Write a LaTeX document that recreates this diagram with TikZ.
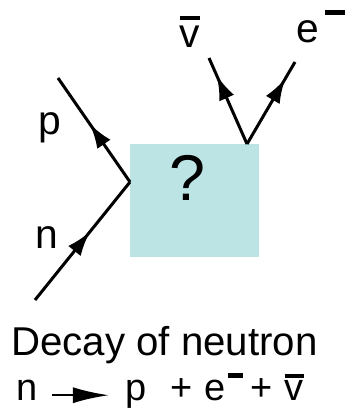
\documentclass[tikz,border=0pt]{standalone}
\usepackage{fontspec}
\setmainfont{Liberation Sans}
\usetikzlibrary{arrows.meta,decorations.markings}
\definecolor{blobcyan}{RGB}{189,228,228}
\newcommand{\nubar}[2]{\vbox{\hrule height #1\kern #2\hbox{v}}}
\tikzset{
  leg/.style={line width=0.075cm, postaction={decorate},
    decoration={markings, mark=at position #1 with {\arrow{Latex[length=0.62cm,width=0.4cm]}}}},
  lbl/.style={inner sep=0pt, anchor=base, font=\fontsize{29}{32}\selectfont},
  eqlbl/.style={inner sep=0pt, anchor=base west, font=\fontsize{27}{30}\selectfont},
}
\begin{document}
\begin{tikzpicture}[x=0.025cm, y=-0.025cm]
  \useasboundingbox (0,0) rectangle (349,412);
  % the unknown interaction
  \node[fill=blobcyan, minimum width=3.225cm, minimum height=2.825cm, inner sep=0pt] (blob) at (194.5,200.5) {};
  \node[lbl, font=\fontsize{46}{50}\selectfont] (q) at (187,200) {?};
  % vertices and free ends
  \coordinate (vleft) at (130,182);
  \coordinate (vtop) at (247,144);
  \coordinate (nin) at (35,300);
  \coordinate (pout) at (58,78);
  \coordinate (nuout) at (209,58);
  \coordinate (eout) at (295,62);
  \draw[leg=0.58] (nin) -- (vleft);
  \draw[leg=0.56] (vleft) -- (pout);
  \draw[leg=0.8] (vtop) -- (nuout);
  \draw[leg=0.8] (vtop) -- (eout);
  % particle labels
  \node[lbl] (p) at (50,135) {p};
  \node[lbl] (n) at (47,248) {n};
  \node[lbl] (nu) at (190,48) {\nubar{0.08cm}{0.17cm}};
  \node[lbl, anchor=base west] (e) at (296,43) {e\hspace{0.15cm}\rule[0.7cm]{0.5cm}{0.12cm}};
  % caption
  \node[lbl, anchor=base west, font=\fontsize{28.6}{32}\selectfont] (title) at (11,355) {Decay of neutron};
  \node[eqlbl] (eqn) at (16,400) {n};
  \node[eqlbl] (eqrhs) at (125,400) {p\hspace{0.6cm}+\hspace{0.31cm}e\hspace{0.04cm}\rule[0.55cm]{0.37cm}{0.12cm}\hspace{0.2cm}+\hspace{0.3cm}\nubar{0.1cm}{0.05cm}};
  \draw[line width=0.06cm, -{Latex[length=0.9cm,width=0.4cm]}] ([xshift=0.37cm,yshift=0.12cm]eqn.base east) -- ([xshift=-0.4cm,yshift=0.12cm]eqrhs.base west);
\end{tikzpicture}
\end{document}
